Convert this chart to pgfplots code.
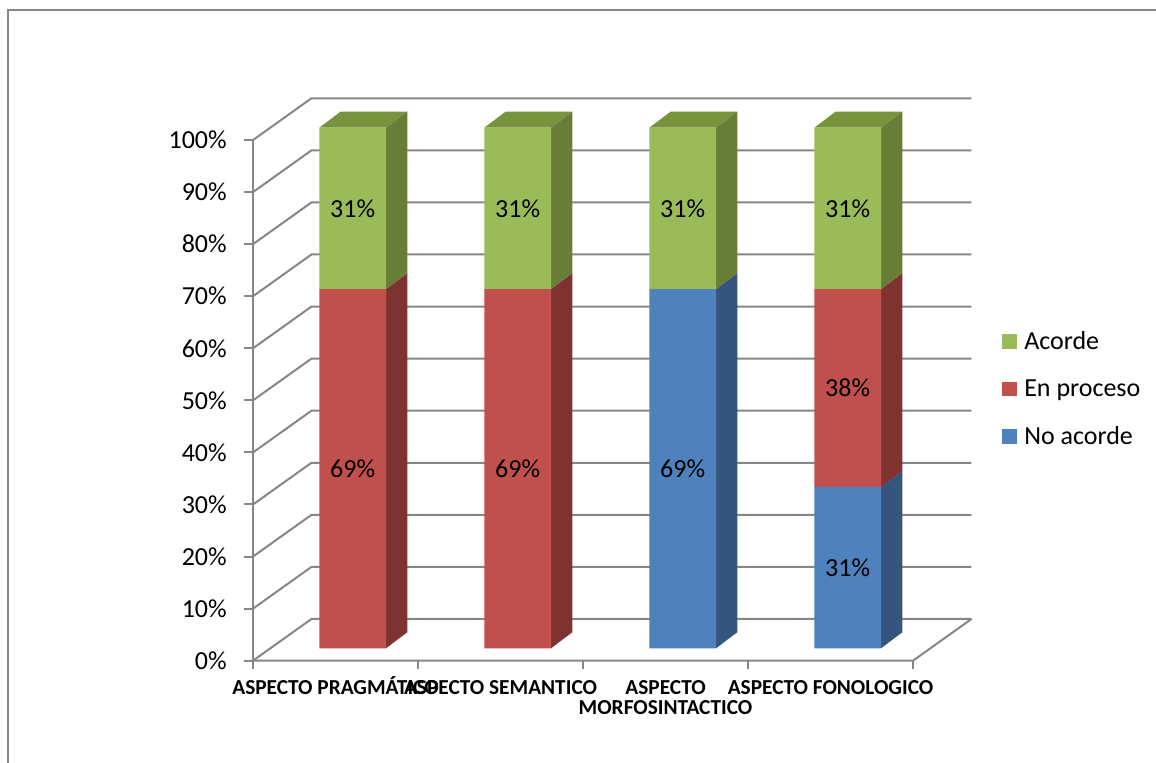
\documentclass[border=0pt]{standalone}
\usepackage{pgfplots}
\pgfplotsset{compat=1.18}
\usepackage{fontspec}
\setmainfont{Carlito}
\definecolor{gridc}{HTML}{868686}
\definecolor{gfront}{HTML}{9BBB59}
\definecolor{gside}{HTML}{687E37}
\definecolor{gtop}{HTML}{77933C}
\definecolor{rfront}{HTML}{C0504D}
\definecolor{rside}{HTML}{7F3331}
\definecolor{bfront}{HTML}{4F81BD}
\definecolor{bside}{HTML}{35557E}
\pgfplotsset{
  base/.style={
    width=867pt, height=572.25pt, scale only axis,
    xmin=-1.1376, xmax=5.8685, ymin=-22.03, ymax=124.51,
    hide axis, clip=false,
  }
}
\begin{document}
\begin{tikzpicture}
\begin{axis}[base]
% frame
\draw[gridc, line width=1.5pt] (axis cs:-1.089,-23) -- (axis cs:-1.089,122.68) -- (axis cs:6,122.68);
% walls and grid
\pgfplotsinvokeforeach{0,10,...,100}{
  \draw[gridc, line width=1.5pt] (axis cs:0.396,#1-2.38) -- (axis cs:0.750,#1+5.63) -- (axis cs:4.750,#1+5.63);
  \draw[gridc, line width=1.5pt] (axis cs:0.341,#1-2.38) -- (axis cs:0.396,#1-2.38);
  \node[anchor=east, font=\fontsize{19.5}{23}\selectfont, inner sep=0pt] at (axis cs:0.238,#1-2.38) {#1\%};
}
\draw[gridc, line width=1.5pt] (axis cs:0.396,-2.38) -- (axis cs:0.396,97.62);
\draw[gridc, line width=1.5pt] (axis cs:0.396,-2.38) -- (axis cs:4.396,-2.38) -- (axis cs:4.750,5.63);
\pgfplotsinvokeforeach{0.396,1.396,2.396,3.396,4.396}{
  \draw[gridc, line width=1.5pt] (axis cs:#1,-2.38) -- (axis cs:#1,-3.92);
}
% category labels
\begin{scope}[every node/.style={font=\fontsize{16}{19}\selectfont\bfseries, inner sep=0pt, anchor=base}]
\node at (axis cs:0.896,-8.78) {ASPECTO PRAGMÁTICO};
\node at (axis cs:1.896,-8.78) {ASPECTO SEMANTICO};
\node at (axis cs:2.896,-8.78) {ASPECTO};
\node at (axis cs:2.896,-12.62) {MORFOSINTACTICO};
\node at (axis cs:3.896,-8.78) {ASPECTO FONOLOGICO};
\end{scope}
% side and top faces of the bars
% bar 1
\addplot[fill=rside, draw=none, forget plot] coordinates {(1.202,0) (1.331,3.07) (1.331,72.07) (1.202,69)};
\addplot[fill=gside, draw=none, forget plot] coordinates {(1.202,69) (1.331,72.07) (1.331,103.07) (1.202,100)};
\addplot[fill=gtop, draw=none, forget plot] coordinates {(0.798,100) (0.927,103.07) (1.331,103.07) (1.202,100)};
% bar 2
\addplot[fill=rside, draw=none, forget plot] coordinates {(2.202,0) (2.331,3.07) (2.331,72.07) (2.202,69)};
\addplot[fill=gside, draw=none, forget plot] coordinates {(2.202,69) (2.331,72.07) (2.331,103.07) (2.202,100)};
\addplot[fill=gtop, draw=none, forget plot] coordinates {(1.798,100) (1.927,103.07) (2.331,103.07) (2.202,100)};
% bar 3
\addplot[fill=bside, draw=none, forget plot] coordinates {(3.202,0) (3.331,3.07) (3.331,72.07) (3.202,69)};
\addplot[fill=gside, draw=none, forget plot] coordinates {(3.202,69) (3.331,72.07) (3.331,103.07) (3.202,100)};
\addplot[fill=gtop, draw=none, forget plot] coordinates {(2.798,100) (2.927,103.07) (3.331,103.07) (3.202,100)};
% bar 4
\addplot[fill=bside, draw=none, forget plot] coordinates {(4.202,0) (4.331,3.07) (4.331,34.07) (4.202,31)};
\addplot[fill=rside, draw=none, forget plot] coordinates {(4.202,31) (4.331,34.07) (4.331,72.07) (4.202,69)};
\addplot[fill=gside, draw=none, forget plot] coordinates {(4.202,69) (4.331,72.07) (4.331,103.07) (4.202,100)};
\addplot[fill=gtop, draw=none, forget plot] coordinates {(3.798,100) (3.927,103.07) (4.331,103.07) (4.202,100)};
\end{axis}
\begin{axis}[base, ybar stacked, bar width=0.404,
  legend style={draw=none, fill=none, at={(0.8665,0.4902)}, anchor=west, inner sep=0pt,
    font=\fontsize{19.5}{23}\selectfont, row sep=21pt,
    nodes={inner sep=0pt},
    /tikz/every odd column/.append style={column sep=5.5pt}},
  legend cell align=left, reverse legend,
  legend image code/.code={\fill[#1] (0pt,-5.6pt) rectangle (11.25pt,5.6pt);}]
\addplot[fill=bfront, draw=none] coordinates {(1,0) (2,0) (3,69) (4,31)};
\addlegendentry{No acorde}
\addplot[fill=rfront, draw=none] coordinates {(1,69) (2,69) (3,0) (4,38)};
\addlegendentry{En proceso}
\addplot[fill=gfront, draw=none] coordinates {(1,31) (2,31) (3,31) (4,31)};
\addlegendentry{Acorde}
\end{axis}
\begin{axis}[base]
\begin{scope}[every node/.style={font=\fontsize{19.5}{23}\selectfont, inner sep=0pt}]
\node at (axis cs:1,84.5) {31\%};
\node at (axis cs:1,34.5) {69\%};
\node at (axis cs:2,84.5) {31\%};
\node at (axis cs:2,34.5) {69\%};
\node at (axis cs:3,84.5) {31\%};
\node at (axis cs:3,34.5) {69\%};
\node at (axis cs:4,84.5) {31\%};
\node at (axis cs:4,50) {38\%};
\node at (axis cs:4,15.5) {31\%};
\end{scope}
\end{axis}
\pgfresetboundingbox
\useasboundingbox (0,0) rectangle (867pt,572.25pt);
\end{tikzpicture}
\end{document}
